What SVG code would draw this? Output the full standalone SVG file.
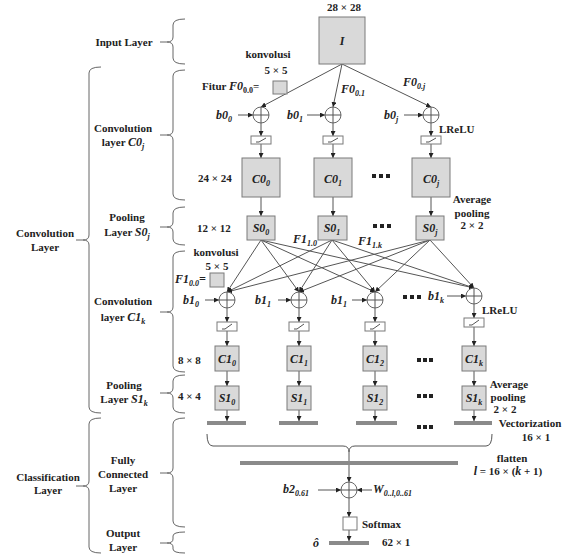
<svg xmlns="http://www.w3.org/2000/svg" width="574" height="557" viewBox="0 0 574 557">
<defs>
<marker id="ar" viewBox="0 0 6 6" refX="6" refY="3" markerWidth="5" markerHeight="5" orient="auto" markerUnits="userSpaceOnUse"><path d="M0,0 L6,3 L0,6 Z" fill="#222"/></marker>
<style>
text{font-family:"Liberation Serif",serif;font-weight:bold;fill:#222}
.l{font-size:11px}
.m{font-size:12px;font-style:italic}
.s{font-size:8px}
.box{fill:#d9d9d9;stroke:#7a7a7a;stroke-width:1}
.wbox{fill:#fff;stroke:#7a7a7a;stroke-width:1}
.ln{stroke:#555;stroke-width:1;fill:none}
.ar{stroke:#555;stroke-width:1;fill:none;marker-end:url(#ar)}
.br{stroke:#666;stroke-width:1;fill:none}
.bar{stroke:#8a8a8a;stroke-width:4;fill:none}
.dot{fill:#222}
.sum{fill:#fff;stroke:#666;stroke-width:1}
</style>
</defs>
<rect width="574" height="557" fill="#fff"/>

<!-- braces -->
<g id="braces">
<path class="br" d="M160,42 H167 M185,19 Q173,19 173,25 V37 Q173,42 167,42 Q173,42 173,47 V58 Q173,64 185,64"/>
<path class="br" d="M160,135 H167 M185,70 Q173,70 173,76 V130 Q173,135 167,135 Q173,135 173,140 V194 Q173,200 185,200"/>
<path class="br" d="M160,227 H167 M185,207 Q173,207 173,213 V222 Q173,227 167,227 Q173,227 173,232 V239 Q173,245 185,245"/>
<path class="br" d="M160,312 H167 M185,251 Q173,251 173,257 V307 Q173,312 167,312 Q173,312 173,317 V366 Q173,372 185,372"/>
<path class="br" d="M160,393 H167 M185,375 Q173,375 173,381 V388 Q173,393 167,393 Q173,393 173,398 V407 Q173,413 185,413"/>
<path class="br" d="M160,473 H167 M185,418 Q173,418 173,424 V468 Q173,473 167,473 Q173,473 173,478 V521 Q173,527 185,527"/>
<path class="br" d="M160,543 H167 M185,532 Q173,532 173,536 V539 Q173,543 167,543 Q173,543 173,547 V549 Q173,553 185,553"/>
<path class="br" d="M76,240 H83 M101,67 Q89,67 89,73 V235 Q89,240 83,240 Q89,240 89,245 V407 Q89,413 101,413"/>
<path class="br" d="M76,486 H83 M101,418 Q89,418 89,424 V481 Q89,486 83,486 Q89,486 89,491 V547 Q89,553 101,553"/>
</g>

<!-- layer labels -->
<g id="layer-labels" class="l" text-anchor="middle">
<text class="l" x="124" y="46">Input Layer</text>
<text class="l" x="123" y="132">Convolution</text>
<text class="l" x="123" y="146">layer <tspan class="m">C</tspan><tspan class="m">0</tspan><tspan class="s" dy="3" font-style="italic">j</tspan></text>
<text class="l" x="127" y="221">Pooling</text>
<text class="l" x="127" y="236">Layer <tspan class="m">S</tspan><tspan class="m">0</tspan><tspan class="s" dy="3" font-style="italic">j</tspan></text>
<text class="l" x="123" y="305">Convolution</text>
<text class="l" x="123" y="321">layer <tspan class="m">C</tspan><tspan class="m">1</tspan><tspan class="s" dy="3" font-style="italic">k</tspan></text>
<text class="l" x="124" y="389">Pooling</text>
<text class="l" x="124" y="403">Layer <tspan class="m">S</tspan><tspan class="m">1</tspan><tspan class="s" dy="3" font-style="italic">k</tspan></text>
<text class="l" x="123" y="464">Fully</text>
<text class="l" x="123" y="478">Connected</text>
<text class="l" x="123" y="492">Layer</text>
<text class="l" x="123" y="537">Output</text>
<text class="l" x="123" y="551">Layer</text>
<text class="l" x="45" y="237">Convolution</text>
<text class="l" x="45" y="251">Layer</text>
<text class="l" x="48" y="481">Classification</text>
<text class="l" x="48" y="494">Layer</text>
</g>

<!-- connectors -->
<g id="connectors">
<!-- I to C0 circles -->
<path class="ar" d="M342,64 L261,107"/>
<path class="ar" d="M342,64 L333,107"/>
<path class="ar" d="M342,64 L431,107"/>
<!-- bias arrows row 0 -->
<path class="ar" d="M238,115 L253,115"/>
<path class="ar" d="M307,115 L325,115"/>
<path class="ar" d="M404,115 L423,115"/>
<!-- down arrows C0 columns -->
<path class="ar" d="M261,123 V136"/><path class="ar" d="M261,144 V158"/><path class="ar" d="M261,197 V216"/>
<path class="ar" d="M333,123 V136"/><path class="ar" d="M333,144 V158"/><path class="ar" d="M333,197 V216"/>
<path class="ar" d="M431,123 V136"/><path class="ar" d="M431,144 V158"/><path class="ar" d="M431,197 V216"/>
<!-- S0 to C1 circles -->
<path class="ar" d="M261,240 L227,292"/>
<path class="ar" d="M261,240 L299,292"/>
<path class="ar" d="M261,240 L375,292"/>
<path class="ar" d="M261,240 L474,288"/>
<path class="ar" d="M332,240 L227,292"/>
<path class="ar" d="M332,240 L299,292"/>
<path class="ar" d="M332,240 L375,292"/>
<path class="ar" d="M332,240 L474,288"/>
<path class="ar" d="M430,240 L227,292"/>
<path class="ar" d="M430,240 L299,292"/>
<path class="ar" d="M430,240 L375,292"/>
<path class="ar" d="M430,240 L474,288"/>
<!-- bias arrows row 1 -->
<path class="ar" d="M205,300 L219,300"/>
<path class="ar" d="M278,300 L291,300"/>
<path class="ar" d="M352,300 L367,300"/>
<path class="ar" d="M447,296 L466,296"/>
<!-- down arrows C1 columns -->
<path class="ar" d="M227,308 V322"/><path class="ar" d="M227,331 V346"/><path class="ar" d="M227,371 V386"/><path class="ar" d="M227,410 V421"/>
<path class="ar" d="M299,308 V322"/><path class="ar" d="M299,331 V346"/><path class="ar" d="M299,371 V386"/><path class="ar" d="M299,410 V421"/>
<path class="ar" d="M375,308 V322"/><path class="ar" d="M375,331 V346"/><path class="ar" d="M375,371 V386"/><path class="ar" d="M375,410 V421"/>
<path class="ar" d="M474,304 V318"/><path class="ar" d="M474,327 V346"/><path class="ar" d="M474,371 V386"/><path class="ar" d="M474,410 V421"/>
<!-- bracket and flatten -->
<path class="ln" stroke-width="1.5" d="M207,434 Q207,446 213,446 L343,446 Q349,446 349,452 Q349,446 355,446 L486,446 Q492,446 492,434"/>
<path class="ar" d="M349,452 V482"/>
<path class="ar" d="M318,490 L341,490"/>
<path class="ar" d="M372,490 L357,490"/>
<path class="ar" d="M349,498 V517"/>
<path class="ar" d="M349,530 V541"/>
</g>

<!-- bars -->
<g id="bars">
<path class="bar" d="M207,423 H246"/>
<path class="bar" d="M279,423 H318"/>
<path class="bar" d="M356,423 H397"/>
<path class="bar" d="M454,423 H492"/>
<path class="bar" d="M240,463 H458"/>
<path class="bar" d="M329,543 H369"/>
</g>

<!-- dots -->
<g id="dots" class="dot">
<rect x="372" y="174" width="4" height="4"/><rect x="379" y="174" width="4" height="4"/><rect x="386" y="174" width="4" height="4"/>
<rect x="373" y="224" width="4" height="4"/><rect x="380" y="224" width="4" height="4"/><rect x="387" y="224" width="4" height="4"/>
<rect x="403" y="295" width="4" height="4"/><rect x="410" y="295" width="4" height="4"/><rect x="417" y="295" width="4" height="4"/>
<rect x="417" y="358" width="4" height="4"/><rect x="423" y="358" width="4" height="4"/><rect x="429" y="358" width="4" height="4"/>
<rect x="417" y="394" width="4" height="4"/><rect x="423" y="394" width="4" height="4"/><rect x="429" y="394" width="4" height="4"/>
<rect x="417" y="425" width="4" height="4"/><rect x="423" y="425" width="4" height="4"/><rect x="429" y="425" width="4" height="4"/>
</g>

<!-- input -->
<g id="input">
<text class="l" x="344" y="11" text-anchor="middle">28 × 28</text>
<rect class="box" x="319" y="17" width="46" height="47"/>
<text class="m" x="342" y="45" text-anchor="middle">I</text>
</g>

<g id="filter0">
<text class="l" x="268" y="58" text-anchor="middle">konvolusi</text>
<text class="l" x="276" y="74" text-anchor="middle">5 × 5</text>
<rect class="box" x="273" y="81" width="14" height="13"/>
<text class="l" x="202" y="90">Fitur <tspan class="m">F0</tspan><tspan class="s" dy="3">0.0</tspan><tspan dy="-3">=</tspan></text>
</g>
<text class="m" x="341" y="93">F0<tspan class="s" dy="3">0.1</tspan></text>
<text class="m" x="403" y="86">F0<tspan class="s" dy="3">0.<tspan font-style="italic">j</tspan></tspan></text>

<!-- conv 0 columns -->
<g id="sum0_0"><circle class="sum" cx="261" cy="115" r="8"/><path class="ln" d="M253,115 H269 M261,107 V123"/></g>
<g id="sum0_1"><circle class="sum" cx="333" cy="115" r="8"/><path class="ln" d="M325,115 H341 M333,107 V123"/></g>
<g id="sum0_j"><circle class="sum" cx="431" cy="115" r="8"/><path class="ln" d="M423,115 H439 M431,107 V123"/></g>
<text class="m" x="216" y="119">b0<tspan class="s" dy="3">0</tspan></text>
<text class="m" x="287" y="119">b0<tspan class="s" dy="3">1</tspan></text>
<text class="m" x="384" y="119">b0<tspan class="s" dy="3">j</tspan></text>
<text class="l" x="439" y="133">LReLU</text>

<g id="relu0_0"><rect class="wbox" x="251" y="136" width="20" height="8"/><path class="ln" d="M256,142 H259 L266,138"/></g>
<g id="relu0_1"><rect class="wbox" x="323" y="136" width="20" height="8"/><path class="ln" d="M328,142 H331 L338,138"/></g>
<g id="relu0_j"><rect class="wbox" x="421" y="136" width="20" height="8"/><path class="ln" d="M426,142 H429 L436,138"/></g>

<text class="l" x="198" y="182">24 × 24</text>
<g id="C0_0"><rect class="box" x="242" y="158" width="38" height="39"/><text class="m" x="261" y="183" text-anchor="middle">C0<tspan class="s" dy="3">0</tspan></text></g>
<g id="C0_1"><rect class="box" x="314" y="158" width="38" height="39"/><text class="m" x="333" y="183" text-anchor="middle">C0<tspan class="s" dy="3">1</tspan></text></g>
<g id="C0_j"><rect class="box" x="412" y="158" width="38" height="39"/><text class="m" x="431" y="183" text-anchor="middle">C0<tspan class="s" dy="3">j</tspan></text></g>

<text class="l" x="197" y="232">12 × 12</text>
<g id="S0_0"><rect class="box" x="247" y="216" width="28" height="24"/><text class="m" x="261" y="232" text-anchor="middle">S0<tspan class="s" dy="3">0</tspan></text></g>
<g id="S0_1"><rect class="box" x="318" y="216" width="29" height="24"/><text class="m" x="332" y="232" text-anchor="middle">S0<tspan class="s" dy="3">1</tspan></text></g>
<g id="S0_j"><rect class="box" x="416" y="216" width="28" height="24"/><text class="m" x="430" y="232" text-anchor="middle">S0<tspan class="s" dy="3">j</tspan></text></g>
<g id="pool0-label" text-anchor="middle">
<text class="l" x="472" y="203">Average</text>
<text class="l" x="472" y="217">pooling</text>
<text class="l" x="472" y="229">2 × 2</text>
</g>

<text class="m" x="293" y="243">F1<tspan class="s" dy="3">1.0</tspan></text>
<text class="m" x="358" y="245">F1<tspan class="s" dy="3">1.<tspan font-style="italic">k</tspan></tspan></text>

<g id="filter1">
<text class="l" x="216" y="256" text-anchor="middle">konvolusi</text>
<text class="l" x="217" y="270" text-anchor="middle">5 × 5</text>
<rect class="box" x="210" y="273" width="14" height="14"/>
<text class="m" x="175" y="283">F1<tspan class="s" dy="3">0.0</tspan><tspan dy="-3">=</tspan></text>
</g>

<!-- conv 1 columns -->
<g id="sum1_0"><circle class="sum" cx="227" cy="300" r="8"/><path class="ln" d="M219,300 H235 M227,292 V308"/></g>
<g id="sum1_1"><circle class="sum" cx="299" cy="300" r="8"/><path class="ln" d="M291,300 H307 M299,292 V308"/></g>
<g id="sum1_2"><circle class="sum" cx="375" cy="300" r="8"/><path class="ln" d="M367,300 H383 M375,292 V308"/></g>
<g id="sum1_k"><circle class="sum" cx="474" cy="296" r="8"/><path class="ln" d="M466,296 H482 M474,288 V304"/></g>
<text class="m" x="183" y="304">b1<tspan class="s" dy="3">0</tspan></text>
<text class="m" x="255" y="304">b1<tspan class="s" dy="3">1</tspan></text>
<text class="m" x="331" y="304">b1<tspan class="s" dy="3">1</tspan></text>
<text class="m" x="428" y="300">b1<tspan class="s" dy="3">k</tspan></text>
<text class="l" x="482" y="314">LReLU</text>

<g id="relu1_0"><rect class="wbox" x="217" y="322" width="20" height="9"/><path class="ln" d="M222,329 H225 L232,324"/></g>
<g id="relu1_1"><rect class="wbox" x="289" y="322" width="20" height="9"/><path class="ln" d="M294,329 H297 L304,324"/></g>
<g id="relu1_2"><rect class="wbox" x="365" y="322" width="20" height="9"/><path class="ln" d="M370,329 H373 L380,324"/></g>
<g id="relu1_k"><rect class="wbox" x="464" y="318" width="20" height="9"/><path class="ln" d="M469,325 H472 L479,320"/></g>

<text class="l" x="178" y="364">8 × 8</text>
<g id="C1_0"><rect class="box" x="215" y="346" width="24" height="25"/><text class="m" x="227" y="363" text-anchor="middle">C1<tspan class="s" dy="3">0</tspan></text></g>
<g id="C1_1"><rect class="box" x="287" y="346" width="24" height="25"/><text class="m" x="299" y="363" text-anchor="middle">C1<tspan class="s" dy="3">1</tspan></text></g>
<g id="C1_2"><rect class="box" x="363" y="346" width="24" height="25"/><text class="m" x="375" y="363" text-anchor="middle">C1<tspan class="s" dy="3">2</tspan></text></g>
<g id="C1_k"><rect class="box" x="462" y="346" width="24" height="25"/><text class="m" x="474" y="363" text-anchor="middle">C1<tspan class="s" dy="3">k</tspan></text></g>

<text class="l" x="178" y="400">4 × 4</text>
<g id="S1_0"><rect class="box" x="215" y="386" width="24" height="24"/><text class="m" x="227" y="402" text-anchor="middle">S1<tspan class="s" dy="3">0</tspan></text></g>
<g id="S1_1"><rect class="box" x="287" y="386" width="24" height="24"/><text class="m" x="299" y="402" text-anchor="middle">S1<tspan class="s" dy="3">1</tspan></text></g>
<g id="S1_2"><rect class="box" x="363" y="386" width="24" height="24"/><text class="m" x="375" y="402" text-anchor="middle">S1<tspan class="s" dy="3">2</tspan></text></g>
<g id="S1_k"><rect class="box" x="462" y="386" width="24" height="24"/><text class="m" x="474" y="402" text-anchor="middle">S1<tspan class="s" dy="3">k</tspan></text></g>
<g id="pool1-label" text-anchor="middle">
<text class="l" x="509" y="388">Average</text>
<text class="l" x="508" y="401">pooling</text>
<text class="l" x="505" y="413">2 × 2</text>
</g>

<text class="l" x="530" y="427" text-anchor="middle">Vectorization</text>
<text class="l" x="536" y="441" text-anchor="middle">16 × 1</text>
<text class="l" x="512" y="462" text-anchor="middle">flatten</text>
<text class="l" x="508" y="475" text-anchor="middle"><tspan class="m">l</tspan> = 16 × (<tspan class="m">k</tspan> + 1)</text>

<g id="sum2"><circle class="sum" cx="349" cy="490" r="8"/><path class="ln" d="M341,490 H357 M349,482 V498"/></g>
<text class="m" x="283" y="493">b2<tspan class="s" dy="3">0.61</tspan></text>
<text class="m" x="373" y="493">W<tspan class="s" dy="3">0..<tspan font-style="italic">l</tspan>,0..61</tspan></text>

<g id="softmax"><rect class="wbox" x="343" y="517" width="14" height="13"/><text class="l" x="362" y="528">Softmax</text></g>
<g id="output"><text class="m" x="313" y="547">ô</text><text class="l" x="382" y="546">62 × 1</text></g>
</svg>
